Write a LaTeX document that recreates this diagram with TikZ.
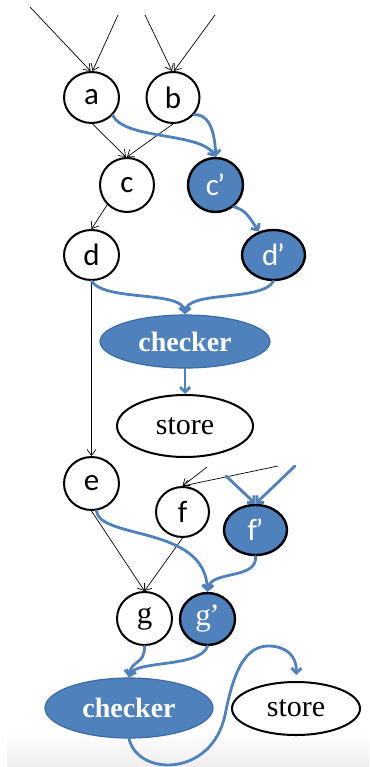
\documentclass[tikz,border=0pt]{standalone}
\usepackage{fontspec}
\setmainfont{Liberation Serif}
\newfontfamily\labfont{Carlito}
\usetikzlibrary{shapes.geometric,arrows.meta}
\definecolor{dupblue}{HTML}{4F81BD}
\definecolor{dupedge}{HTML}{3C6CA8}
\newcommand{\prm}{\kern-1.5pt’}
\begin{document}
\begin{tikzpicture}[x=1pt,y=-1pt,
  orig/.style={ellipse, draw=black, line width=2pt, fill=white, inner sep=0pt,
    font=\labfont\fontsize{31}{31}\selectfont},
  dup/.style={orig, fill=dupblue, text=white, line width=2.4pt},
  serifletter/.style={font=\rmfamily\fontsize{31}{31}\selectfont},
  checkbox/.style={ellipse, fill=dupblue, draw=dupedge, line width=1.2pt, text=white,
    inner sep=0pt, font=\rmfamily\bfseries\fontsize{28}{28}\selectfont},
  storebox/.style={ellipse, draw=black, line width=2pt, fill=white, inner sep=0pt,
    font=\rmfamily\fontsize{30}{30}\selectfont},
  dataflow/.style={black, line width=0.7pt, -{Straight Barb[length=6pt,width=9pt]}},
  dupflow/.style={dupblue, line width=2.8pt, line cap=round,
    -{Straight Barb[length=5pt,width=10pt]}},
]
\useasboundingbox (0,0) rectangle (369,767);
\fill[white] (0,0) rectangle (369,767);
\shade[top color=white, bottom color=gray!14] (7,732) rectangle (369,767);

% original computation
\node[orig, minimum width=55pt, minimum height=51pt] (a) at (91.5,97.5) {a};
\node[orig, minimum width=53pt, minimum height=51pt] (b) at (173,97.5) {b};
\node[orig, minimum width=54pt, minimum height=54pt] (c) at (127,185) {c};
\node[orig, minimum width=55pt, minimum height=50pt] (d) at (91.5,255) {d};
\node[orig, minimum width=55pt, minimum height=53pt] (e) at (91.5,483.5) {e};
\node[orig, minimum width=53pt, minimum height=50pt] (f) at (182.5,512) {f};
\node[orig, serifletter, minimum width=55pt, minimum height=53pt] (g) at (144.5,618.5) {g};

% duplicated computation
\node[dup, minimum width=55pt, minimum height=54pt] (c2) at (215.5,185) {c\prm};
\node[dup, minimum width=63pt, minimum height=50pt] (d2) at (273.5,255) {d\prm};
\node[dup, minimum width=63pt, minimum height=50pt] (f2) at (255.5,530) {f\prm};
\node[dup, serifletter, minimum width=55pt, minimum height=52pt] (g2) at (207.5,619) {g\prm};

% checkers and stores
\node[checkbox, minimum width=170pt, minimum height=53pt] (chk1) at (185,341.5) {checker};
\node[storebox, minimum width=136pt, minimum height=62pt] (st1) at (185,426) {store};
\node[checkbox, minimum width=168pt, minimum height=60pt] (chk2) at (129,708) {checker};
\node[storebox, minimum width=128pt, minimum height=53pt] (st2) at (296,708.5) {store};

% external inputs
\coordinate (ina1) at (30,7);
\coordinate (ina2) at (118,15);
\coordinate (inb1) at (145,15);
\coordinate (inb2) at (215,15);
\coordinate (inf1) at (207,467);
\coordinate (inf2) at (278,466);
\coordinate (inf3) at (226,476);
\coordinate (inf4) at (295,466);

% data flow of the original program
\draw[dataflow] (ina1) -- ([xshift=-1pt]a.north);
\draw[dataflow] (ina2) -- ([xshift=1pt]a.north);
\draw[dataflow] (inb1) -- ([xshift=-1pt]b.north);
\draw[dataflow] (inb2) -- ([xshift=1pt]b.north);
\draw[dataflow] ([xshift=1pt]a.south) -- ([xshift=-1pt]c.north);
\draw[dataflow] (b.south) -- (c.north);
\draw[dataflow] (c.225) -- (d.north);
\draw[dataflow] (d.south) -- (e.north);
\draw[dataflow] (inf1) -- (f.north);
\draw[dataflow] (inf2) -- (f.north);
\draw[dataflow] (e.south) -- (g.north);
\draw[dataflow] (f.south) -- (g.north);

% data flow of the duplicate
\draw[dupflow] (a.-40) .. controls (125,140) and (200,132) .. (c2.north);
\draw[dupflow] (b.-40) .. controls (205,113) and (215,125) .. (c2.north);
\draw[dupflow] (c2.-50) .. controls (245,210) and (248,215) .. (d2.122);
\draw[dupflow] (d.south) .. controls (105,302) and (183,290) .. (chk1.north);
\draw[dupflow] (d2.south) .. controls (262,302) and (187,290) .. (chk1.north);
\draw[dupflow] (chk1.south) -- (st1.north);
\draw[dupflow] (inf3) -- (f2.north);
\draw[dupflow] (inf4) -- (f2.north);
\draw[dupflow] (e.-80) .. controls (100,540) and (205,525) .. (g2.north);
\draw[dupflow] (f2.south) .. controls (258,580) and (210,570) .. (g2.north);
\draw[dupflow] (g.south) .. controls (145,665) and (131,660) .. (chk2.north);
\draw[dupflow] (g2.south) .. controls (200,668) and (135,660) .. (chk2.north);
\draw[dupflow, shorten >=6pt] (chk2.south) .. controls (138,777) and (212,777) .. (225,715)
  .. controls (231,686) and (240,646) .. (268,646)
  .. controls (285,646) and (297,655) .. (st2.north);
\end{tikzpicture}
\end{document}
